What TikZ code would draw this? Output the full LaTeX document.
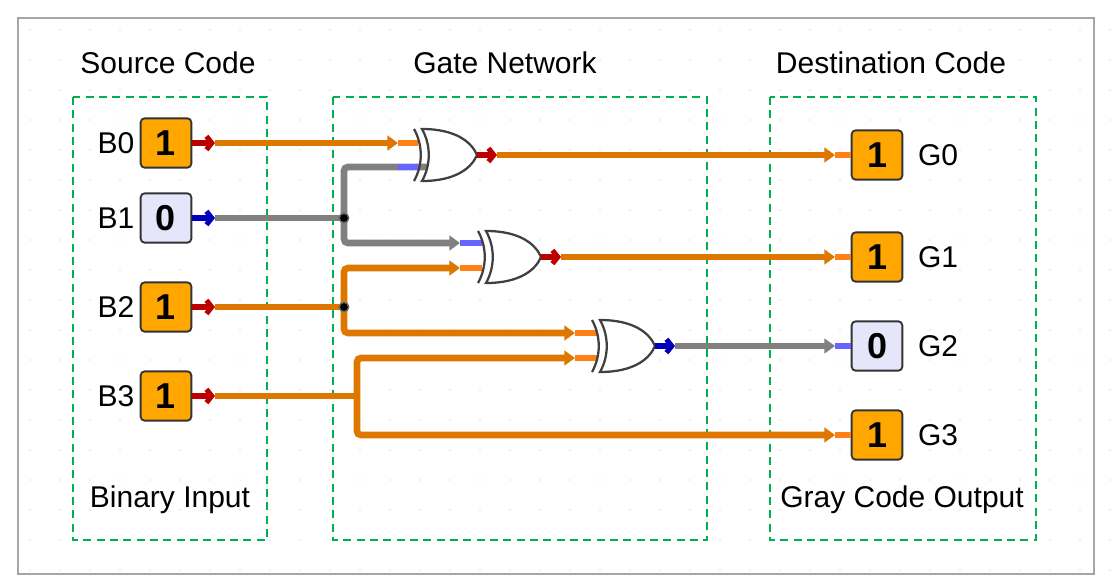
\documentclass[tikz,border=0pt]{standalone}
\usepackage{fontspec}
\setmainfont{Liberation Sans}
\usetikzlibrary{arrows.meta}
\definecolor{wor}{RGB}{221,119,0}
\definecolor{lor}{RGB}{255,128,20}
\definecolor{wgr}{RGB}{128,128,128}
\definecolor{lbl}{RGB}{102,102,255}
\definecolor{dbl}{RGB}{0,0,187}
\definecolor{dred}{RGB}{187,0,0}
\definecolor{boxo}{RGB}{255,166,0}
\definecolor{boxl}{RGB}{230,230,250}
\definecolor{grn}{RGB}{0,176,80}
\tikzset{
  every node/.style={font=\fontsize{22.5}{26}\selectfont},
  grp/.style={draw=grn,dash pattern=on 6pt off 4pt,line width=1.3pt},
  bit/.style={draw=black!80,rounded corners=3pt,line width=1.4pt,minimum width=38pt,minimum height=37pt,inner sep=0pt,font=\fontsize{27}{30}\selectfont\bfseries},
  one/.style={bit,fill=boxo},
  zero/.style={bit,fill=boxl},
  wo/.style={draw=wor,line width=5pt,rounded corners=3pt},
  wg/.style={draw=wgr,line width=5pt,rounded corners=3pt},
  tipo/.style={-{Triangle[length=8pt,width=11pt]},draw=wor,line width=5pt,rounded corners=3pt},
  tipg/.style={-{Triangle[length=8pt,width=11pt]},draw=wgr,line width=5pt,rounded corners=3pt},
  stubo/.style={draw=lor,line width=5pt},
  stubb/.style={draw=lbl,line width=5pt},
  outr/.style={draw=dred,line width=3.8pt,-{Straight Barb[length=4pt,width=10pt]}},
  outb/.style={draw=dbl,line width=3.8pt,-{Straight Barb[length=4pt,width=10pt]}},
  gate/.style={draw=black!75,line width=1.7pt,fill=white},
  dot/.style={circle,fill=black,draw=black!60,line width=1pt,inner sep=0pt,minimum size=7pt},
}
\newcommand{\xorg}[3]{% name, x, y (input edge center)
  \begin{scope}[shift={(#2,#3)}]
  \draw[gate] (0,26) .. controls (35,26) and (50,12) .. (55,0) .. controls (50,-12) and (35,-26) .. (0,-26) .. controls (9,-10) and (9,10) .. (0,26) -- cycle;
  \draw[gate,fill=none] (-8,-26) .. controls (1,-10) and (1,10) .. (-8,26);
  \coordinate (#1o) at (55,0);
  \end{scope}}
\begin{document}
\begin{tikzpicture}[x=0.75pt,y=-0.75pt]
\useasboundingbox (0,0) rectangle (1112,586);
\fill[white] (0,0) rectangle (1112,586);
\foreach \i in {0,...,36} \foreach \j in {0,...,18}
  \fill[black!12] (30+\i*30,30+\j*30) circle (0.9);
\draw[black!35,line width=0.8pt] (18,18) rectangle (1094,574);
\draw[grp] (73,97) rectangle (267,540);
\draw[grp] (333,97) rectangle (707,540);
\draw[grp] (770,97) rectangle (1036,540);
\node (t1) at (168,63) {Source Code};
\node (t2) at (505,63) {Gate Network};
\node (t3) at (891,63) {Destination Code};
\node (t4) at (170,500) {Binary Input};
\node (t5) at (902,500) {Gray Code Output};
% inputs
\node[one]  (b0) at (166,143) {1}; \node (lb0) at (116,143) {B0};
\node[zero] (b1) at (166,218) {0}; \node (lb1) at (116,218) {B1};
\node[one]  (b2) at (166,307) {1}; \node (lb2) at (116,307) {B2};
\node[one]  (b3) at (166,396) {1}; \node (lb3) at (116,396) {B3};
% outputs
\node[one]  (g0) at (877,155) {1}; \node (lg0) at (938,155) {G0};
\node[one]  (g1) at (877,257) {1}; \node (lg1) at (938,257) {G1};
\node[zero] (g2) at (877,346) {0}; \node (lg2) at (938,346) {G2};
\node[one]  (g3) at (877,435) {1}; \node (lg3) at (938,435) {G3};
% junction coordinates
\coordinate (j1) at (344,218);
\coordinate (j2) at (344,307);
\coordinate (j3) at (357,396);
% wires from inputs
\draw[wg] (215,218) -- (j1);
\draw[wo] (215,307) -- (j2);
\draw[wo] (215,396) -- (j3);
\draw[tipo] (215,143) -- (398,143);
\draw[tipg] (j1) |- (457,167);
\draw[tipg] (j1) |- (460,243);
\draw[tipo] (j2) |- (460,268);
\draw[tipo] (j2) |- (575,333);
\draw[tipo] (j3) |- (575,358);
\draw[tipo] (j3) |- (835,435);
% stubs into gates
\draw[stubo] (398,143) -- (418,143);
\draw[stubb] (398,167) -- (418,167);
\draw[stubb] (460,243) -- (482,243);
\draw[stubo] (460,268) -- (482,268);
\draw[stubo] (575,333) -- (597,333);
\draw[stubo] (575,358) -- (597,358);
% gates
\xorg{x1}{422}{155}
\xorg{x2}{486}{257}
\xorg{x3}{600}{346}
% outputs of gates
\draw[tipo] (x1o) ++(20,0) coordinate (o1) -- (835,155);
\draw[stubo] (835,155) -- (g0.west);
\draw[tipo] (x2o) ++(20,0) coordinate (o2) -- (835,257);
\draw[stubo] (835,257) -- (g1.west);
\draw[tipg] (x3o) ++(20,0) coordinate (o3) -- (835,346);
\draw[stubb] (835,346) -- (g2.west);
\draw[stubo] (835,435) -- (g3.west);
\draw[outr] (x1o) -- (o1);
\draw[outr] (x2o) -- (o2);
\draw[outb] (x3o) -- (o3);
% source stubs
\draw[outr] (b0.east) -- (215,143);
\draw[outb] (b1.east) -- (215,218);
\draw[outr] (b2.east) -- (215,307);
\draw[outr] (b3.east) -- (215,396);
\node[dot] at (j1) {};
\node[dot] at (j2) {};
\end{tikzpicture}
\end{document}
